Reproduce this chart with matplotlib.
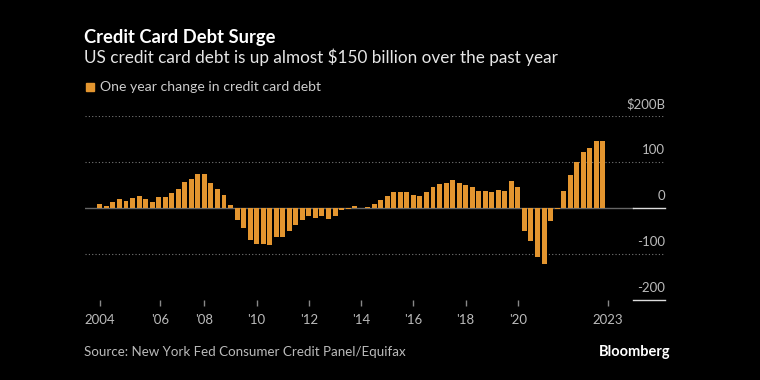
import numpy as np
import matplotlib
matplotlib.use("Agg")
import matplotlib.pyplot as plt

# quarterly year-over-year change, $ billions, 2004 Q1 .. 2023 Q2
start_year = 2004
yoy_change = [
    8, 5, 13, 20, 16, 21, 27, 20, 14, 23, 23, 32, 41, 57, 63, 73, 73, 54, 41, 28,
    7, -25, -44, -69, -79, -78, -80, -64, -64, -49, -37, -25, -17, -21, -18, -24,
    -18, -4, -2, 5, -1, 2, 9, 18, 26, 34, 34, 34, 29, 27, 34, 46, 52, 55, 61, 55,
    51, 45, 37, 37, 34, 39, 38, 58, 45, -50, -72, -106, -122, -29, -2, 38, 71, 100,
    121, 130, 145, 145,
]
tick_years = [2004, 2006.3, 2008, 2010, 2012, 2014, 2016, 2018, 2020, 2023.45]
tick_labels = ["2004", "'06", "'08", "'10", "'12", "'14", "'16", "'18", "'20", "2023"]
y_levels = [200, 100, 0, -100, -200]
y_labels = ["$200B", "100", "0", "-100", "-200"]

orange = "#e3952f"
plt.rcParams["font.family"] = ["Lato", "DejaVu Sans"]

fig = plt.figure(figsize=(7.6, 3.8), dpi=100, facecolor="black")
ax = fig.add_axes([85 / 760, 1 - 300 / 380, 580 / 760, 184 / 380])
ax.set_facecolor("black")

x = start_year + np.arange(len(yoy_change)) / 4
ax.bar(x, yoy_change, width=0.19, color=orange, zorder=3)

xmin, xmax = 2003.43, 2025.63
ax.set_xlim(xmin, xmax)
ax.set_ylim(-200, 200)

for v in [200, 100, -100]:
    ax.axhline(v, color="#777777", lw=0.8, ls=(0, (1, 2)), zorder=1)
ax.plot([xmin, 2024.4], [0, 0], color="#666666", lw=1, zorder=2)
for v in [0, -200]:
    ax.plot([2024.4, xmax], [v, v], color="#dddddd", lw=1, zorder=2, clip_on=False)

for v, lab in zip(y_levels, y_labels):
    ax.annotate(lab, (1, v), xycoords=("axes fraction", "data"), xytext=(0, 4),
                textcoords="offset points", ha="right", va="bottom",
                color="#bbbbbb", fontsize=9.5)

for s in ax.spines.values():
    s.set_visible(False)
ax.set_yticks([])
ax.set_xticks(tick_years)
ax.set_xticklabels(tick_labels)
ax.tick_params(axis="x", colors="#888888", length=4, width=1, pad=6,
               labelsize=9.5, labelcolor="#bbbbbb")

fig.text(84 / 760, 1 - 37 / 380, "Credit Card Debt Surge", color="white",
         fontsize=13.2, fontweight="bold", va="center", ha="left")
fig.text(84 / 760, 1 - 57 / 380,
         "US credit card debt is up almost $150 billion over the past year",
         color="#e6e6e6", fontsize=12.3, va="center", ha="left")
fig.patches.append(plt.Rectangle((86 / 760, 1 - 91 / 380), 8 / 760, 8 / 380,
                                 transform=fig.transFigure, color=orange))
fig.text(100 / 760, 1 - 87 / 380, "One year change in credit card debt",
         color="#cccccc", fontsize=10.1, va="center", ha="left")
fig.text(84 / 760, 1 - 352 / 380, "Source: New York Fed Consumer Credit Panel/Equifax",
         color="#bbbbbb", fontsize=9.6, va="center", ha="left")
fig.text(671 / 760, 1 - 352 / 380, "Bloomberg", color="white", fontsize=10.5,
         fontweight="bold", va="center", ha="right")

fig.savefig("out.png", dpi=100, facecolor="black")
